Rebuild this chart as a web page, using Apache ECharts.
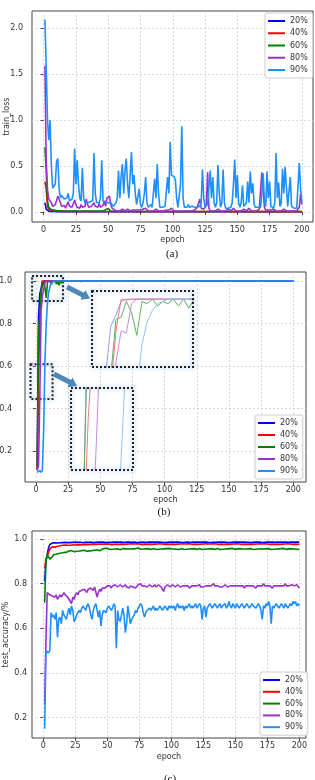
<!DOCTYPE html>
<html>
<head>
<meta charset="utf-8">
<script src="https://cdn.jsdelivr.net/npm/echarts@6/dist/echarts.min.js"></script>
<style>
html,body{margin:0;padding:0;background:#fff;}
#chart{width:315px;height:780px;}
</style>
</head>
<body>
<div id="chart"></div>
<script>
// legend names / colours
const names = ['20%', '40%', '60%', '80%', '90%'];
const colors = ['#0000ff', '#ff0000', '#008000', '#9b30d0', '#1e8fff'];
const insetColors = ['#9a9af5', '#f27a7a', '#5fae5f', '#c58be0', '#8ec6fb'];
const xTicks = [0, 25, 50, 75, 100, 125, 150, 175, 200];
const lossTicks = [0, 0.5, 1.0, 1.5, 2.0];
const accTicks = [0.2, 0.4, 0.6, 0.8, 1.0];

// (a) train_loss, epochs 1..200
const loss20 = [
.10,.03,.012,.008,.006,.005,.004,.004,.003,.003,.003,.003,.003,.002,.002,.002,.002,.002,.002,.002,
.002,.002,.002,.002,.002,.002,.002,.002,.002,.002,.002,.002,.002,.002,.002,.002,.002,.002,.002,.002,
.002,.002,.002,.002,.002,.002,.002,.002,.003,.002,.002,.002,.002,.002,.002,.002,.002,.002,.002,.002,
.002,.002,.002,.002,.002,.001,.002,.002,.002,.002,.002,.002,.002,.002,.001,.002,.002,.002,.002,.002,
.002,.002,.001,.002,.002,.002,.002,.002,.002,.002,.001,.002,.002,.002,.002,.002,.002,.002,.002,.002,
.001,.002,.002,.002,.002,.002,.002,.001,.002,.002,.002,.002,.002,.002,.002,.002,.002,.002,.001,.002,
.002,.002,.002,.002,.002,.002,.002,.002,.002,.001,.002,.002,.002,.002,.002,.002,.002,.002,.002,.002,
.002,.001,.002,.002,.002,.002,.002,.002,.002,.002,.002,.002,.001,.002,.002,.002,.002,.002,.002,.002,
.002,.002,.002,.002,.001,.002,.002,.002,.002,.002,.002,.002,.002,.002,.002,.001,.002,.002,.002,.002,
.002,.002,.002,.002,.002,.002,.001,.002,.002,.002,.002,.002,.002,.002,.002,.002,.002,.002,.002,.002
];
const loss40 = [
.33,.25,.06,.03,.02,.015,.012,.010,.010,.008,.008,.007,.007,.006,.006,.006,.005,.006,.005,.005,
.005,.005,.006,.005,.005,.004,.005,.005,.005,.004,.005,.005,.004,.005,.005,.004,.005,.004,.005,.004,
.004,.005,.004,.005,.004,.004,.005,.004,.006,.005,.004,.004,.005,.004,.004,.004,.004,.005,.004,.004,
.004,.004,.004,.005,.004,.004,.003,.004,.004,.004,.004,.003,.004,.004,.004,.003,.004,.004,.004,.004,
.003,.004,.004,.004,.003,.004,.004,.003,.004,.004,.003,.004,.004,.004,.003,.004,.004,.003,.004,.004,
.003,.004,.003,.004,.004,.003,.004,.003,.004,.004,.003,.004,.003,.004,.003,.004,.004,.003,.004,.003,
.004,.003,.004,.003,.004,.004,.003,.004,.003,.004,.003,.004,.003,.004,.003,.004,.003,.004,.003,.004,
.003,.004,.003,.004,.003,.003,.004,.003,.004,.003,.003,.004,.003,.004,.003,.003,.004,.003,.003,.004,
.003,.003,.004,.003,.003,.004,.003,.003,.004,.003,.003,.004,.003,.003,.004,.003,.003,.003,.004,.003,
.003,.003,.004,.003,.003,.003,.004,.003,.003,.003,.004,.003,.003,.003,.003,.004,.003,.003,.003,.003
];
const loss60 = [
.70,.45,.12,.05,.03,.025,.020,.020,.015,.015,.012,.012,.010,.012,.010,.010,.012,.010,.009,.010,
.010,.009,.010,.012,.010,.009,.008,.010,.009,.008,.009,.008,.010,.008,.007,.008,.009,.008,.007,.008,
.007,.008,.007,.009,.008,.010,.015,.025,.040,.035,.015,.008,.007,.006,.007,.006,.005,.006,.005,.006,
.005,.006,.005,.005,.006,.005,.004,.005,.006,.005,.005,.004,.005,.005,.006,.005,.004,.005,.005,.004,
.005,.004,.005,.005,.004,.005,.004,.005,.004,.005,.005,.004,.005,.004,.005,.004,.005,.004,.005,.004,
.004,.005,.004,.005,.004,.004,.005,.004,.005,.004,.004,.005,.004,.004,.005,.004,.005,.004,.004,.005,
.004,.005,.004,.004,.005,.004,.004,.005,.004,.004,.005,.004,.004,.005,.004,.004,.005,.004,.004,.005,
.004,.004,.005,.004,.004,.004,.005,.004,.004,.005,.004,.004,.004,.005,.004,.004,.004,.005,.004,.004,
.004,.005,.004,.004,.004,.005,.004,.004,.004,.005,.004,.004,.004,.004,.005,.004,.004,.004,.004,.005,
.004,.004,.004,.005,.004,.004,.004,.004,.005,.004,.004,.004,.004,.005,.004,.004,.004,.004,.006,.004
];
const loss80 = [
1.59,.56,.24,.14,.15,.10,.06,.05,.08,.12,.17,.18,.10,.06,.05,.07,.04,.05,.11,.06,
.04,.05,.07,.13,.08,.05,.06,.04,.08,.05,.04,.06,.14,.08,.05,.04,.06,.05,.10,.06,
.04,.05,.09,.05,.04,.07,.12,.06,.15,.14,.17,.08,.04,.03,.02,.02,.01,.02,.01,.02,
.03,.02,.01,.02,.03,.02,.01,.02,.02,.03,.02,.01,.02,.01,.02,.01,.03,.02,.04,.02,
.01,.02,.01,.02,.01,.02,.03,.02,.01,.02,.01,.02,.01,.03,.02,.01,.02,.03,.04,.02,
.01,.02,.01,.02,.01,.02,.01,.02,.01,.02,.01,.02,.01,.02,.01,.03,.02,.01,.05,.10,
.14,.04,.02,.03,.05,.08,.43,.04,.01,.02,.01,.02,.01,.02,.03,.02,.01,.02,.01,.02,
.01,.02,.03,.02,.01,.02,.04,.02,.01,.02,.01,.02,.01,.02,.03,.02,.01,.02,.04,.02,
.01,.02,.01,.02,.01,.02,.03,.04,.43,.42,.05,.02,.01,.02,.01,.02,.01,.03,.02,.01,
.02,.01,.02,.01,.02,.03,.02,.01,.02,.01,.02,.01,.02,.01,.02,.01,.03,.05,.20,.08
];
const loss90 = [
2.09,1.58,1.00,.78,1.00,.50,.26,.25,.30,.55,.58,.25,.15,.18,.20,.14,.12,.15,.20,.12,
.10,.14,.20,.69,.30,.56,.30,.15,.12,.48,.15,.10,.12,.10,.09,.11,.10,.12,.64,.20,
.10,.12,.10,.15,.56,.12,.10,.11,.09,.10,.12,.10,.08,.06,.05,.10,.15,.45,.15,.38,
.52,.20,.45,.58,.30,.15,.40,.65,.30,.40,.20,.08,.10,.25,.08,.05,.10,.20,.38,.10,
.05,.06,.08,.05,.06,.36,.15,.52,.20,.05,.04,.05,.04,.06,.08,.38,.20,.76,.40,.38,
.38,.35,.15,.05,.04,.30,.93,.15,.05,.04,.05,.08,.05,.04,.06,.07,.05,.04,.05,.04,
.06,.10,.46,.15,.05,.06,.08,.10,.45,.15,.38,.10,.05,.10,.51,.20,.05,.10,.46,.10,
.04,.05,.04,.06,.05,.10,.30,.57,.15,.40,.10,.05,.10,.29,.06,.05,.10,.33,.10,.44,
.20,.31,.08,.05,.04,.05,.06,.05,.20,.42,.10,.06,.44,.15,.33,.06,.05,.04,.10,.64,
.15,.32,.06,.10,.47,.20,.49,.28,.06,.08,.38,.06,.05,.04,.05,.04,.06,.53,.25,.10
];

// (b) train accuracy, epochs 1..200
const train20 = [
.11,.83,.94,.965,.995,1,1,1,1,1,1,1,1,1,1,1,1,1,1,1,
1,1,1,1,1,1,1,1,1,1,1,1,1,1,1,1,1,1,1,1,
1,1,1,1,1,1,1,1,1,1,1,1,1,1,1,1,1,1,1,1,
1,1,1,1,1,1,1,1,1,1,1,1,1,1,1,1,1,1,1,1,
1,1,1,1,1,1,1,1,1,1,1,1,1,1,1,1,1,1,1,1,
1,1,1,1,1,1,1,1,1,1,1,1,1,1,1,1,1,1,1,1,
1,1,1,1,1,1,1,1,1,1,1,1,1,1,1,1,1,1,1,1,
1,1,1,1,1,1,1,1,1,1,1,1,1,1,1,1,1,1,1,1,
1,1,1,1,1,1,1,1,1,1,1,1,1,1,1,1,1,1,1,1,
1,1,1,1,1,1,1,1,1,1,1,1,1,1,1,1,1,1,1,1
];
const train40 = [
.12,.55,.80,.93,1,.998,1,1,1,1,1,1,1,1,1,1,1,1,1,1,
1,1,1,1,1,1,1,1,1,1,1,1,1,1,1,1,1,1,1,1,
1,1,1,1,1,1,1,1,1,1,1,1,1,1,1,1,1,1,1,1,
1,1,1,1,1,1,1,1,1,1,1,1,1,1,1,1,1,1,1,1,
1,1,1,1,1,1,1,1,1,1,1,1,1,1,1,1,1,1,1,1,
1,1,1,1,1,1,1,1,1,1,1,1,1,1,1,1,1,1,1,1,
1,1,1,1,1,1,1,1,1,1,1,1,1,1,1,1,1,1,1,1,
1,1,1,1,1,1,1,1,1,1,1,1,1,1,1,1,1,1,1,1,
1,1,1,1,1,1,1,1,1,1,1,1,1,1,1,1,1,1,1,1,
1,1,1,1,1,1,1,1,1,1,1,1,1,1,1,1,1,1,1,1
];
const train60 = [
.13,.78,.83,.955,.96,.995,.97,.92,.995,.99,1,.985,.995,.99,1,.985,1,.98,1,.99,
1,.995,1,1,1,1,1,1,1,.997,1,1,1,1,.997,1,1,1,1,.997,
1,1,1,1,1,1,1,1,1,1,1,1,1,1,1,1,1,1,1,1,
1,1,1,1,1,1,1,1,1,1,1,1,1,1,1,1,1,1,1,1,
1,1,1,1,1,1,1,1,1,1,1,1,1,1,1,1,1,1,1,1,
1,1,1,1,1,1,1,1,1,1,1,1,1,1,1,1,1,1,1,1,
1,1,1,1,1,1,1,1,1,1,1,1,1,1,1,1,1,1,1,1,
1,1,1,1,1,1,1,1,1,1,1,1,1,1,1,1,1,1,1,1,
1,1,1,1,1,1,1,1,1,1,1,1,1,1,1,1,1,1,1,1,
1,1,1,1,1,1,1,1,1,1,1,1,1,1,1,1,1,1,1,1
];
const train80 = [
.11,.13,.45,.86,.93,.925,.99,1,1,1,1,1,1,1,1,1,1,1,1,1,
1,1,1,1,1,1,1,1,1,1,1,1,1,1,1,1,1,1,1,1,
1,1,1,1,1,1,1,1,1,1,1,1,1,1,1,1,1,1,1,1,
1,1,1,1,1,1,1,1,1,1,1,1,1,1,1,1,1,1,1,1,
1,1,1,1,1,1,1,1,1,1,1,1,1,1,1,1,1,1,1,1,
1,1,1,1,1,1,1,1,1,1,1,1,1,1,1,1,1,1,1,1,
1,1,1,1,1,1,1,1,1,1,1,1,1,1,1,1,1,1,1,1,
1,1,1,1,1,1,1,1,1,1,1,1,1,1,1,1,1,1,1,1,
1,1,1,1,1,1,1,1,1,1,1,1,1,1,1,1,1,1,1,1,
1,1,1,1,1,1,1,1,1,1,1,1,1,1,1,1,1,1,1,1
];
const train90 = [
.10,.10,.11,.10,.11,.30,.62,.80,.90,.95,.975,.99,.995,1,1,1,1,1,1,1,
1,1,1,1,1,1,1,1,1,1,1,1,1,1,1,1,1,1,1,1,
1,1,1,1,1,1,1,1,1,1,1,1,1,1,1,1,1,1,1,1,
1,1,1,1,1,1,1,1,1,1,1,1,1,1,1,1,1,1,1,1,
1,1,1,1,1,1,1,1,1,1,1,1,1,1,1,1,1,1,1,1,
1,1,1,1,1,1,1,1,1,1,1,1,1,1,1,1,1,1,1,1,
1,1,1,1,1,1,1,1,1,1,1,1,1,1,1,1,1,1,1,1,
1,1,1,1,1,1,1,1,1,1,1,1,1,1,1,1,1,1,1,1,
1,1,1,1,1,1,1,1,1,1,1,1,1,1,1,1,1,1,1,1,
1,1,1,1,1,1,1,1,1,1,1,1,1,1,1,1,1,1,1,1
];

// (c) test accuracy, epochs 1..200
const test20 = [
.81,.90,.93,.96,.975,.983,.982,.984,.983,.985,.982,.984,.983,.985,.984,.982,.985,.983,.984,.986,
.984,.983,.985,.984,.986,.983,.985,.984,.986,.985,.983,.985,.986,.984,.985,.983,.986,.985,.984,.986,
.985,.984,.986,.985,.987,.984,.986,.985,.984,.986,.985,.987,.985,.984,.986,.985,.987,.984,.986,.985,
.986,.985,.984,.986,.987,.985,.986,.984,.985,.987,.986,.985,.984,.986,.985,.987,.986,.984,.985,.986,
.985,.987,.986,.984,.986,.985,.987,.985,.986,.984,.986,.987,.985,.986,.984,.986,.985,.987,.986,.985,
.986,.984,.987,.985,.986,.988,.985,.986,.984,.986,.985,.987,.986,.985,.984,.986,.987,.985,.986,.985,
.987,.985,.986,.984,.986,.985,.987,.986,.985,.986,.984,.987,.985,.986,.985,.987,.986,.984,.986,.985,
.986,.987,.985,.986,.984,.986,.985,.987,.986,.985,.986,.984,.987,.985,.986,.985,.986,.987,.985,.986,
.985,.986,.984,.987,.986,.985,.986,.985,.987,.986,.984,.986,.985,.987,.986,.985,.986,.984,.987,.986,
.985,.986,.987,.985,.986,.984,.986,.985,.987,.986,.985,.986,.987,.985,.986,.984,.986,.985,.987,.986
];
const test40 = [
.87,.91,.925,.94,.955,.96,.965,.968,.963,.97,.968,.972,.97,.968,.972,.97,.973,.969,.972,.97,
.972,.97,.974,.971,.973,.97,.975,.972,.974,.971,.975,.973,.976,.972,.975,.974,.976,.973,.977,.975,
.976,.974,.978,.975,.977,.976,.978,.975,.977,.976,.978,.977,.975,.978,.976,.978,.977,.979,.976,.978,
.977,.979,.976,.978,.977,.975,.978,.977,.979,.976,.978,.977,.979,.976,.978,.977,.975,.978,.977,.979,
.976,.978,.977,.979,.976,.978,.977,.975,.978,.977,.979,.976,.978,.977,.976,.978,.977,.979,.976,.978,
.977,.979,.976,.978,.977,.975,.978,.977,.979,.976,.978,.977,.979,.976,.978,.977,.976,.978,.977,.979,
.976,.978,.977,.975,.978,.977,.979,.976,.978,.972,.978,.977,.979,.976,.978,.977,.976,.978,.977,.979,
.976,.978,.977,.979,.976,.978,.977,.975,.978,.977,.979,.976,.978,.977,.976,.978,.977,.979,.976,.978,
.977,.979,.976,.978,.977,.975,.978,.977,.979,.976,.978,.977,.979,.976,.978,.977,.976,.978,.977,.979,
.976,.978,.977,.979,.976,.978,.977,.975,.978,.977,.979,.976,.978,.977,.976,.978,.977,.979,.976,.978
];
const test60 = [
.715,.90,.93,.92,.91,.905,.92,.93,.935,.932,.938,.935,.94,.937,.942,.94,.945,.94,.943,.946,
.944,.948,.945,.943,.947,.945,.949,.946,.944,.948,.946,.95,.947,.945,.949,.947,.951,.948,.946,.95,
.948,.952,.949,.947,.951,.955,.96,.958,.962,.958,.955,.953,.956,.954,.957,.955,.953,.956,.954,.952,
.955,.957,.954,.956,.953,.955,.958,.955,.953,.956,.954,.957,.955,.96,.956,.954,.957,.955,.953,.956,
.954,.957,.955,.953,.956,.958,.955,.953,.956,.954,.957,.955,.952,.956,.954,.957,.955,.958,.954,.956,
.953,.955,.957,.954,.956,.953,.955,.958,.955,.953,.956,.954,.957,.955,.953,.956,.954,.957,.955,.953,
.956,.958,.955,.953,.946,.954,.957,.955,.953,.956,.954,.957,.955,.953,.956,.958,.955,.953,.956,.954,
.957,.955,.953,.956,.954,.957,.955,.958,.956,.953,.955,.957,.954,.956,.953,.955,.958,.955,.953,.956,
.954,.957,.955,.953,.956,.954,.957,.955,.953,.956,.958,.955,.953,.956,.954,.957,.955,.953,.956,.954,
.957,.955,.953,.956,.954,.957,.955,.958,.956,.953,.955,.957,.954,.956,.953,.955,.957,.954,.956,.953
];
const test80 = [
.26,.55,.76,.76,.75,.75,.745,.75,.74,.75,.73,.74,.75,.74,.75,.76,.75,.745,.74,.73,
.72,.71,.74,.73,.75,.76,.75,.765,.76,.77,.765,.775,.77,.76,.775,.77,.78,.775,.77,.785,
.78,.74,.76,.775,.765,.78,.775,.78,.785,.79,.785,.79,.78,.79,.785,.795,.79,.785,.79,.795,
.79,.785,.79,.795,.785,.79,.78,.79,.795,.785,.79,.78,.785,.795,.79,.80,.79,.785,.79,.795,
.785,.79,.795,.79,.785,.79,.795,.785,.79,.795,.79,.785,.78,.765,.785,.79,.795,.79,.785,.79,
.795,.79,.785,.79,.795,.79,.785,.78,.79,.785,.79,.795,.79,.78,.785,.79,.795,.79,.785,.79,
.79,.795,.785,.79,.785,.78,.79,.795,.79,.785,.79,.795,.80,.79,.785,.79,.795,.785,.79,.785,
.79,.795,.79,.785,.78,.79,.785,.79,.795,.79,.785,.79,.795,.79,.785,.79,.78,.79,.795,.79,
.785,.79,.795,.79,.785,.78,.79,.795,.79,.785,.79,.80,.79,.785,.79,.795,.79,.785,.78,.79,
.795,.79,.785,.79,.795,.79,.785,.79,.80,.79,.795,.79,.785,.795,.80,.79,.785,.795,.79,.78
];
const test90 = [
.15,.50,.50,.49,.50,.67,.65,.66,.64,.67,.56,.64,.65,.62,.68,.66,.65,.64,.67,.69,
.66,.70,.68,.63,.64,.66,.67,.68,.67,.69,.70,.70,.68,.70,.71,.69,.66,.64,.68,.70,
.71,.68,.65,.68,.61,.66,.68,.68,.67,.69,.70,.70,.68,.69,.71,.70,.51,.68,.64,.63,
.66,.69,.66,.58,.62,.70,.66,.62,.64,.65,.66,.68,.67,.69,.70,.71,.70,.67,.65,.67,
.68,.68,.69,.68,.69,.70,.68,.69,.68,.69,.70,.69,.68,.69,.70,.69,.68,.70,.69,.70,
.69,.70,.68,.70,.71,.69,.70,.69,.70,.68,.70,.69,.70,.71,.69,.70,.69,.70,.71,.69,
.70,.71,.70,.64,.69,.70,.65,.69,.70,.71,.70,.69,.70,.71,.70,.69,.70,.71,.69,.70,
.70,.71,.69,.70,.72,.70,.69,.71,.70,.69,.71,.70,.69,.70,.71,.70,.69,.70,.71,.70,
.69,.70,.71,.70,.70,.69,.70,.71,.70,.68,.64,.70,.69,.71,.70,.72,.70,.62,.70,.69,
.70,.71,.70,.69,.70,.71,.70,.69,.71,.70,.69,.70,.71,.70,.72,.71,.72,.70,.71,.70
];

const lossSeries = [loss20, loss40, loss60, loss80, loss90];
const trainSeries = [train20, train40, train60, train80, train90];
const testSeries = [test20, test40, test60, test80, test90];

// magnified regions of (b), in data units: [xmin, xmax, ymin, ymax]
const zoomTop = [-3, 21, 0.906, 1.023];
const zoomMid = [-4.2, 12.9, 0.445, 0.609];

const FONT = 'DejaVu Sans';
const axisColor = '#444';

const grids = [
    {left: 32, top: 11, width: 281, height: 211},
    {left: 25, top: 272, width: 281, height: 210},
    {left: 32, top: 531, width: 274, height: 207},
    {left: 92, top: 291, width: 101, height: 76},   // inset 1
    {left: 71, top: 388, width: 62, height: 82}      // inset 2
];

function mainX(gi, min, max, nameGap) {
    return {
        type: 'value', gridIndex: gi, min: min, max: max,
        name: 'epoch', nameLocation: 'middle', nameGap: nameGap, nameMoveOverlap: false,
        nameTextStyle: {fontSize: 8, color: '#333', fontFamily: FONT},
        axisLine: {show: false},
        axisTick: {show: true, customValues: xTicks, length: 3, lineStyle: {color: axisColor}},
        axisLabel: {customValues: xTicks, margin: 4, fontSize: 8, color: '#333', fontFamily: FONT},
        splitLine: {show: true, lineStyle: {color: '#cfcfcf', type: [2, 2], width: 0.8}}
    };
}
function mainY(gi, min, max, ticks, name, nameGap, margin, digits) {
    return {
        type: 'value', gridIndex: gi, min: min, max: max,
        name: name, nameLocation: 'middle', nameGap: nameGap, nameMoveOverlap: false,
        nameTextStyle: {fontSize: 8, color: '#333', fontFamily: FONT},
        axisLine: {show: false},
        axisTick: {show: true, customValues: ticks, length: 3, lineStyle: {color: axisColor}},
        axisLabel: {customValues: ticks, margin: margin, fontSize: 8, color: '#333', fontFamily: FONT,
            formatter: v => v.toFixed(digits)},
        splitLine: {show: true, lineStyle: {color: '#cfcfcf', type: [2, 2], width: 0.8}}
    };
}
function line(name, data, color, idx, width) {
    return {
        name: name, type: 'line', xAxisIndex: idx, yAxisIndex: idx,
        data: data.map((v, i) => [i + 1, v]),
        showSymbol: false, symbol: 'none', clip: true,
        lineStyle: {color: color, width: width}, itemStyle: {color: color},
        emphasis: {disabled: true}
    };
}
function legendAt(left, top, gap) {
    return {
        data: names, orient: 'vertical', left: left, top: top,
        icon: 'rect', itemWidth: 17, itemHeight: 2, itemGap: gap,
        padding: [3, 5, 3, 3],
        backgroundColor: 'rgba(255,255,255,0.9)', borderColor: '#cccccc', borderWidth: 1, borderRadius: 2,
        textStyle: {fontSize: 8, lineHeight: 10, color: '#333', fontFamily: FONT}
    };
}
function arrow(x1, y1, x2, y2) {
    const shaft = 5, head = 11, headLen = 8;
    const dx = x2 - x1, dy = y2 - y1, L = Math.hypot(dx, dy);
    const ux = dx / L, uy = dy / L, nx = -uy, ny = ux;
    const bx = x2 - ux * headLen, by = y2 - uy * headLen;
    return {
        type: 'polygon', z: 20,
        shape: {points: [
            [x1 + nx * shaft / 2, y1 + ny * shaft / 2], [bx + nx * shaft / 2, by + ny * shaft / 2],
            [bx + nx * head / 2, by + ny * head / 2], [x2, y2],
            [bx - nx * head / 2, by - ny * head / 2], [bx - nx * shaft / 2, by - ny * shaft / 2],
            [x1 - nx * shaft / 2, y1 - ny * shaft / 2]
        ]},
        style: {fill: '#4f87b8'}
    };
}
function insetFrame(g) {
    return {
        type: 'rect', z: 20,
        shape: {x: g.left, y: g.top, width: g.width, height: g.height},
        style: {fill: null, stroke: '#222', lineWidth: 2, lineDash: [2, 2],
            shadowBlur: 5, shadowColor: 'rgba(90,150,215,0.9)'}
    };
}
function caption(text, x, y) {
    return {type: 'text', x: x, y: y, z: 20,
        style: {text: text, font: '11px "Liberation Serif"', fill: '#111', align: 'center', verticalAlign: 'middle'}};
}

const series = [];
names.forEach((n, i) => series.push(line(n, lossSeries[i], colors[i], 0, 1.6)));
names.forEach((n, i) => series.push(line(n, trainSeries[i], colors[i], 1, 1.6)));
names.forEach((n, i) => series.push(line(n, testSeries[i], colors[i], 2, 1.6)));
names.forEach((n, i) => series.push(line(n, trainSeries[i], insetColors[i], 3, 1)));
names.forEach((n, i) => series.push(line(n, trainSeries[i], insetColors[i], 4, 1)));

// dotted source boxes in (b)
series[5].markArea = {
    silent: true,
    itemStyle: {color: 'rgba(0,0,0,0)', borderColor: '#222', borderWidth: 2, borderType: [2, 2],
        shadowBlur: 5, shadowColor: 'rgba(90,150,215,0.9)'},
    data: [
        [{coord: [zoomTop[0], zoomTop[3]]}, {coord: [zoomTop[1], zoomTop[2]]}],
        [{coord: [zoomMid[0], zoomMid[3]]}, {coord: [zoomMid[1], zoomMid[2]]}]
    ]
};

const option = {
    animation: false,
    backgroundColor: '#fff',
    grid: grids.map((g, i) => Object.assign({
        containLabel: false,
        outerBoundsMode: 'none',
        show: true,
        z: i >= 3 ? 1 : 0,
        backgroundColor: i >= 3 ? '#fff' : 'transparent',
        borderColor: i >= 3 ? 'transparent' : axisColor,
        borderWidth: i >= 3 ? 0 : 1
    }, g)),
    xAxis: [
        mainX(0, -9, 208.6, 14),
        mainX(1, -8.5, 209.9, 14),
        mainX(2, -8.9, 205.2, 15),
        {type: 'value', gridIndex: 3, min: -0.6, max: 18.8, show: false},
        {type: 'value', gridIndex: 4, min: -0.35, max: 8.15, show: false}
    ],
    yAxis: [
        mainY(0, -0.11, 2.185, lossTicks, 'train_loss', 21, 9, 1),
        mainY(1, 0.055, 1.042, accTicks, '', 20, 13, 1),
        mainY(2, 0.108, 1.036, accTicks, 'test_accuracy/%', 22, 5, 1),
        {type: 'value', gridIndex: 3, min: 0.85, max: 1.018, show: false},
        {type: 'value', gridIndex: 4, min: 0.44, max: 0.62, show: false}
    ],
    legend: [legendAt(265, 13, 2.25), legendAt(255, 415, 2), legendAt(260, 672, 1.8)],
    series: series,
    graphic: [
        insetFrame(grids[3]), insetFrame(grids[4]),
        arrow(67, 287, 90, 298.5), arrow(54, 374, 77, 386),
        caption('(a)', 172, 254), caption('(b)', 164, 512), caption('(c)', 170, 779)
    ]
};

const chart = echarts.init(document.getElementById('chart'), null, {renderer: 'canvas'});
chart.setOption(option);
</script>
</body>
</html>
